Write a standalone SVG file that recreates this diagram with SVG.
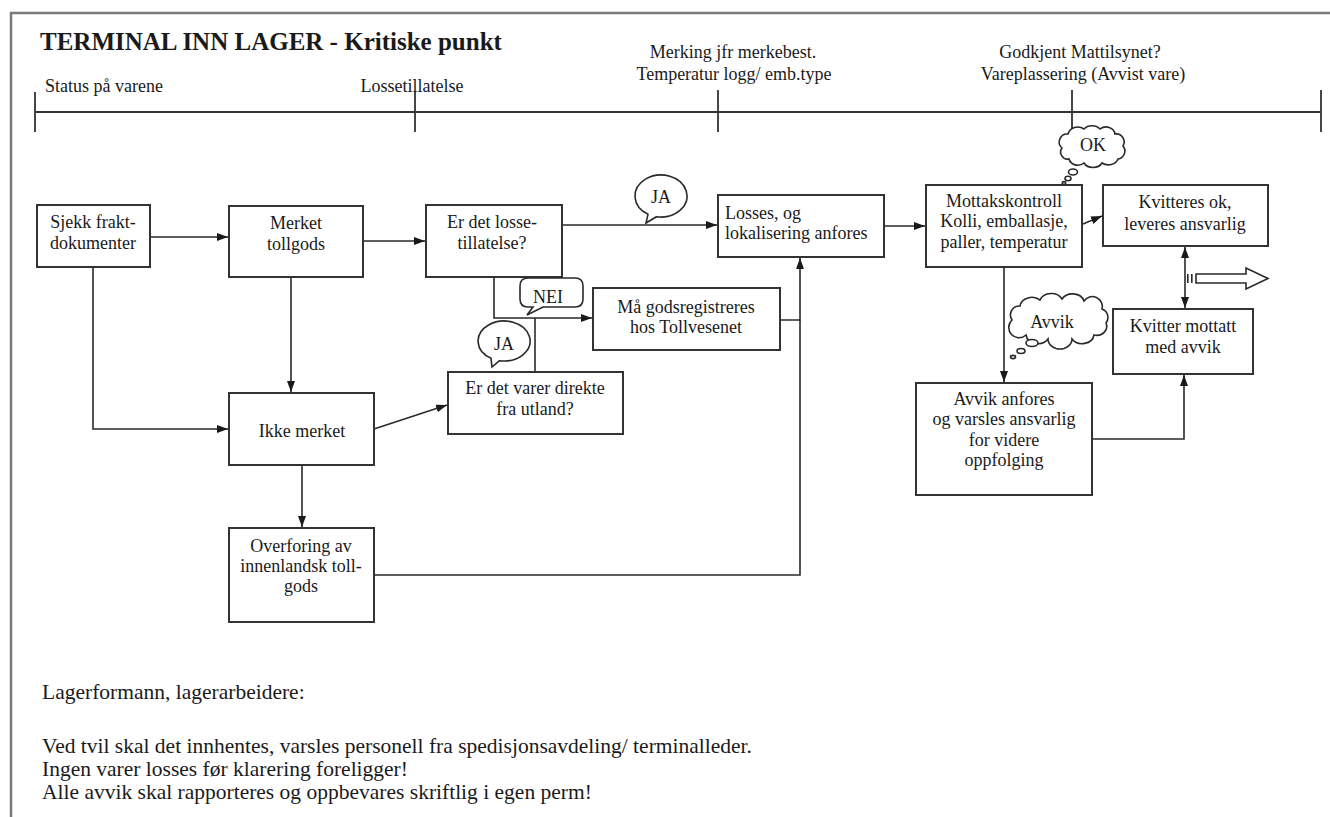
<svg xmlns="http://www.w3.org/2000/svg" width="1330" height="817" viewBox="0 0 1330 817">
  <style>
    text { font-family: "Liberation Serif", "Times New Roman", serif; fill: #1a1a1a; }
    .t { font-size: 18px; text-anchor: middle; }
    .tl { font-size: 18px; }
    .title { font-size: 25px; font-weight: bold; }
    .note { font-size: 21.5px; }
    .box { fill: #ffffff; stroke: #333333; stroke-width: 2; }
    .line { fill: none; stroke: #2a2a2a; stroke-width: 1.6; }
    .axis { fill: none; stroke: #333333; stroke-width: 1.8; }
    .bubble { fill: #ffffff; stroke: #2a2a2a; stroke-width: 1.6; }
  </style>
  <defs>
    <marker id="arrow" viewBox="0 0 11 8" refX="11" refY="4" markerWidth="11" markerHeight="8" orient="auto-start-reverse" markerUnits="userSpaceOnUse">
      <path d="M0,0 L11,4 L0,8 Z" fill="#1a1a1a"/>
    </marker>
  </defs>

  <rect width="1330" height="817" fill="#ffffff"/>
  <!-- page frame (top and left edges inside the page) -->
  <rect x="11" y="13" width="1400" height="830" fill="none" stroke="#7a7a7a" stroke-width="2.5"/>

  <!-- heading and time line -->
  <g id="header">
    <text class="title" x="40" y="50">TERMINAL INN LAGER - Kritiske punkt</text>
    <text class="tl" x="45" y="92">Status på varene</text>
    <text class="t" x="412" y="92">Lossetillatelse</text>
    <text class="t" x="733" y="58">Merking jfr merkebest.</text>
    <text class="t" x="734" y="80">Temperatur logg/ emb.type</text>
    <text class="t" x="1080" y="58">Godkjent Mattilsynet?</text>
    <text class="t" x="1083" y="80">Vareplassering (Avvist vare)</text>
    <path class="axis" d="M35,112 H1321 M35,92 V132 M415,92 V132 M718,90 V132 M1072,90 V135 M1321,90 V132"/>
  </g>

  <!-- connectors -->
  <g id="connectors">
    <path class="line" d="M150,237 H228" marker-end="url(#arrow)"/>
    <path class="line" d="M363,241 H425" marker-end="url(#arrow)"/>
    <path class="line" d="M540,225 H717" marker-end="url(#arrow)"/>
    <path class="line" d="M884,226 H925" marker-end="url(#arrow)"/>
    <path class="line" d="M1083,224 L1102,216" marker-end="url(#arrow)"/>
    <path class="line" d="M1185,247 V308" marker-start="url(#arrow)" marker-end="url(#arrow)"/>
    <path class="line" d="M1004,267 V382" marker-end="url(#arrow)"/>
    <path class="line" d="M1092,439 H1184 V375" marker-end="url(#arrow)"/>
    <path class="line" d="M494,277 V318 H592" marker-end="url(#arrow)"/>
    <path class="line" d="M535,372 V318"/>
    <path class="line" d="M780,320 H800 V258" marker-end="url(#arrow)"/>
    <path class="line" d="M374,575 H800 V320"/>
    <path class="line" d="M93,267 V429 H228" marker-end="url(#arrow)"/>
    <path class="line" d="M291,277 V392" marker-end="url(#arrow)"/>
    <path class="line" d="M374,429 L447,405" marker-end="url(#arrow)"/>
    <path class="line" d="M302,465 V527" marker-end="url(#arrow)"/>
  </g>

  <!-- nodes -->
  <g id="sjekk">
    <rect class="box" x="37" y="205" width="113" height="62"/>
    <text class="t" x="93" y="228">Sjekk frakt-</text>
    <text class="t" x="93" y="249">dokumenter</text>
  </g>
  <g id="merket">
    <rect class="box" x="229" y="206" width="134" height="71"/>
    <text class="t" x="296" y="229">Merket</text>
    <text class="t" x="296" y="250">tollgods</text>
  </g>
  <g id="losse">
    <rect class="box" x="426" y="205" width="136" height="72"/>
    <text class="t" x="492" y="228">Er det losse-</text>
    <text class="t" x="492" y="249">tillatelse?</text>
  </g>
  <g id="direkte">
    <rect class="box" x="448" y="372" width="175" height="62"/>
    <text class="t" x="535" y="394">Er det varer direkte</text>
    <text class="t" x="535" y="415">fra utland?</text>
  </g>
  <g id="godsreg">
    <rect class="box" x="593" y="288" width="187" height="62"/>
    <text class="t" x="686" y="313">Må godsregistreres</text>
    <text class="t" x="686" y="333">hos Tollvesenet</text>
  </g>
  <g id="losses">
    <rect class="box" x="718" y="195" width="166" height="62"/>
    <text class="tl" x="725" y="219">Losses, og</text>
    <text class="tl" x="725" y="239">lokalisering anfores</text>
  </g>
  <g id="mottak">
    <rect class="box" x="926" y="185" width="156" height="82"/>
    <text class="t" x="1004" y="207">Mottakskontroll</text>
    <text class="t" x="1004" y="227">Kolli, emballasje,</text>
    <text class="t" x="1004" y="248">paller, temperatur</text>
  </g>
  <g id="kvitteres">
    <rect class="box" x="1103" y="185" width="165" height="61"/>
    <text class="t" x="1185" y="208">Kvitteres ok,</text>
    <text class="t" x="1185" y="230">leveres ansvarlig</text>
  </g>
  <g id="kvitter-avvik">
    <rect class="box" x="1113" y="309" width="140" height="65"/>
    <text class="t" x="1183" y="332">Kvitter mottatt</text>
    <text class="t" x="1183" y="353">med avvik</text>
  </g>
  <g id="avvik-anfores">
    <rect class="box" x="916" y="383" width="176" height="112"/>
    <text class="t" x="1004" y="405">Avvik anfores</text>
    <text class="t" x="1004" y="425">og varsles ansvarlig</text>
    <text class="t" x="1004" y="446">for videre</text>
    <text class="t" x="1004" y="466">oppfolging</text>
  </g>
  <g id="ikke-merket">
    <rect class="box" x="229" y="393" width="145" height="72"/>
    <text class="t" x="302" y="437">Ikke merket</text>
  </g>
  <g id="overforing">
    <rect class="box" x="229" y="528" width="145" height="94"/>
    <text class="t" x="301" y="552">Overforing av</text>
    <text class="t" x="301" y="572">innenlandsk toll-</text>
    <text class="t" x="301" y="592">gods</text>
  </g>

  <!-- outgoing hand-over arrow -->
  <g id="utlevering">
    <rect x="1187" y="274" width="1.6" height="9" fill="#2a2a2a"/>
    <rect x="1191" y="274" width="1.6" height="9" fill="#2a2a2a"/>
    <path class="bubble" d="M1196,274 H1246 V268 L1268,278.5 L1246,289 V283 H1196 Z"/>
  </g>

  <!-- speech bubbles -->
  <g id="ja-top">
    <path class="bubble" d="M656.5,216.7 A26,21 0 1 0 648,214.2 L646,223 Z"/>
    <text class="t" x="661" y="203">JA</text>
  </g>
  <g id="ja-low">
    <path class="bubble" d="M499.5,360.7 A26,20 0 1 0 491,358.3 L492,367 Z"/>
    <text class="t" x="504" y="350">JA</text>
  </g>
  <g id="nei">
    <path class="bubble" d="M528,278 H575 Q583,278 583,286 V299 Q583,307 575,307 H543 L527,315 L533,307 H528 Q520,307 520,299 V286 Q520,278 528,278 Z"/>
    <text class="t" x="548" y="303">NEI</text>
  </g>

  <!-- thought clouds -->
  <g id="ok-cloud">
    <path class="bubble" d="M1062,148 a8,8 0 0 1 6,-14 a10,9 0 0 1 16,-5 a10,8 0 0 1 16,0 a9,8 0 0 1 15,5 a8,8 0 0 1 8,12 a8,8 0 0 1 -5,13 a10,8 0 0 1 -16,4 a10,8 0 0 1 -18,0 a9,8 0 0 1 -15,-4 a7,7 0 0 1 -7,-11 Z"/>
    <ellipse class="bubble" cx="1073" cy="172" rx="4.5" ry="3"/>
    <ellipse class="bubble" cx="1068" cy="178.5" rx="3" ry="2.2"/>
    <ellipse class="bubble" cx="1064" cy="183" rx="1.8" ry="1.4"/>
    <text class="t" x="1093" y="151">OK</text>
  </g>
  <g id="avvik-cloud">
    <path class="bubble" d="M1012,320 a9,9 0 0 1 8,-14 a12,10 0 0 1 20,-6 a12,10 0 0 1 22,-1 a12,10 0 0 1 22,2 a10,10 0 0 1 18,8 a9,9 0 0 1 4,14 a10,9 0 0 1 -12,12 a12,10 0 0 1 -22,4 a12,10 0 0 1 -24,0 a12,10 0 0 1 -22,-4 a9,9 0 0 1 -14,-15 Z"/>
    <ellipse class="bubble" cx="1032" cy="343" rx="6" ry="3.5"/>
    <ellipse class="bubble" cx="1021" cy="351" rx="4" ry="2.5"/>
    <ellipse class="bubble" cx="1013" cy="357" rx="2.5" ry="1.6"/>
    <text class="t" x="1052" y="328">Avvik</text>
  </g>

  <!-- notes -->
  <g id="notes">
    <text class="note" x="42" y="699">Lagerformann, lagerarbeidere:</text>
    <text class="note" x="42" y="753">Ved tvil skal det innhentes, varsles personell fra spedisjonsavdeling/ terminalleder.</text>
    <text class="note" x="42" y="776">Ingen varer losses før klarering foreligger!</text>
    <text class="note" x="42" y="799">Alle avvik skal rapporteres og oppbevares skriftlig i egen perm!</text>
  </g>
</svg>
